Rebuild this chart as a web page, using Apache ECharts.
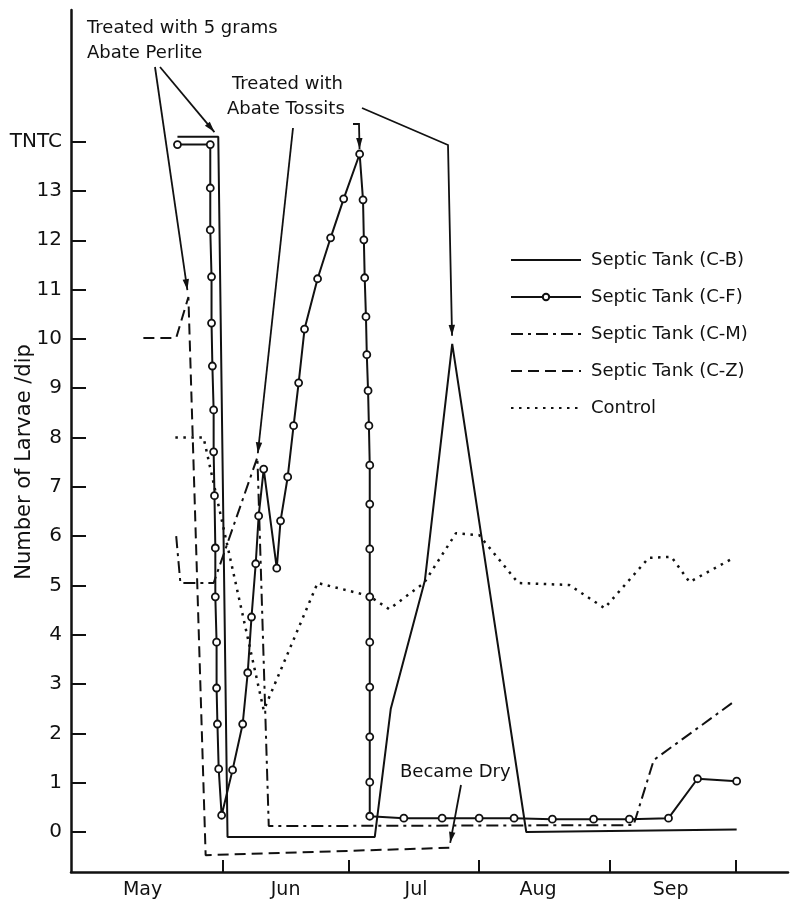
<!DOCTYPE html>
<html>
<head>
<meta charset="utf-8">
<script src="https://cdn.jsdelivr.net/npm/echarts@6/dist/echarts.min.js"></script>
<style>
html, body { margin: 0; padding: 0; background: #fff; }
#main { width: 794px; height: 900px; }
</style>
</head>
<body>
<div id="main"></div>
<script>
// x = day of year (Jun 1 = 152), y = larvae per dip, 14 stands for TNTC
var monthTicks = [152, 182, 213, 244, 274];
var monthLabelPos = [133, 167, 198, 227, 258.5];
var monthNames = ['May', 'Jun', 'Jul', 'Aug', 'Sep'];
var yTicks = [0, 1, 2, 3, 4, 5, 6, 7, 8, 9, 10, 11, 12, 13, 14];
var names = ['Septic Tank (C-B)', 'Septic Tank (C-F)', 'Septic Tank (C-M)', 'Septic Tank (C-Z)', 'Control'];

var tankCB = [[141.3, 14.1], [151.0, 14.1], [153.2, -0.1], [188.2, -0.1], [192.0, 2.5],
  [200.1, 5.1], [206.6, 9.9], [224.2, 0.0], [274.2, 0.05]];

var tankCF = [[141.3, 13.94], [149.1, 13.94],
  [149.1, 13.06], [149.1, 12.21], [149.4, 11.26], [149.4, 10.32], [149.6, 9.45], [149.9, 8.56],
  [149.9, 7.71], [150.1, 6.82], [150.3, 5.76], [150.3, 4.77], [150.6, 3.85], [150.6, 2.92],
  [150.8, 2.19], [151.1, 1.28], [151.8, 0.34],
  [154.4, 1.26], [156.8, 2.19], [158.0, 3.23], [158.9, 4.36], [159.9, 5.44], [160.6, 6.41],
  [161.8, 7.36], [164.9, 5.35], [165.8, 6.31], [167.5, 7.20], [168.9, 8.24], [170.1, 9.11],
  [171.5, 10.20], [174.6, 11.22], [177.7, 12.05], [180.8, 12.84], [184.6, 13.75],
  [185.4, 12.82], [185.6, 12.01], [185.8, 11.24], [186.1, 10.45], [186.3, 9.68], [186.6, 8.95],
  [186.8, 8.24], [187.0, 7.44], [187.0, 6.65], [187.0, 5.74], [187.0, 4.77], [187.0, 3.85],
  [187.0, 2.94], [187.0, 1.93], [187.0, 1.01], [187.0, 0.32],
  [195.1, 0.28], [204.2, 0.28], [213.0, 0.28], [221.3, 0.28], [230.4, 0.26], [240.2, 0.26],
  [248.7, 0.26], [258.0, 0.28], [264.9, 1.08], [274.2, 1.03]];

var tankCM = [[141.0, 6.0], [142.0, 5.05], [149.9, 5.05], [160.3, 7.6], [163.0, 0.12],
  [249.7, 0.14], [254.5, 1.46], [273.5, 2.64]];

var tankCZ = [[133.2, 10.02], [141.0, 10.02], [143.9, 10.85], [148.0, -0.47], [205.9, -0.32]];

var control = [[140.8, 8.0], [147.5, 8.0], [161.8, 2.47], [174.6, 5.05], [186.8, 4.79],
  [191.6, 4.52], [199.9, 5.05], [207.5, 6.06], [213.0, 6.02], [222.3, 5.05], [234.4, 5.01],
  [242.8, 4.54], [253.3, 5.56], [258.7, 5.58], [263.0, 5.07], [273.5, 5.56]];

var ink = '#111';
var font = 'DejaVu Sans';

var chart = echarts.init(document.getElementById('main'), null, { renderer: 'canvas' });

function lineSeries(name, data, type, width, symbol) {
  return {
    name: name,
    type: 'line',
    data: data,
    symbol: symbol || 'none',
    symbolSize: 7,
    showSymbol: !!symbol,
    animation: false,
    itemStyle: { color: '#fff', borderColor: ink, borderWidth: 1.8 },
    lineStyle: { color: ink, width: width, type: type },
    z: 3
  };
}

// only C-F carries a marker in the legend
var hidden = { opacity: 0, color: 'rgba(0,0,0,0)', borderColor: 'rgba(0,0,0,0)' };
var legendData = names.map(function (n, i) {
  return i === 1 ? { name: n } : { name: n, itemStyle: hidden };
});

chart.setOption({
  backgroundColor: '#fff',
  animation: false,
  textStyle: { fontFamily: font, color: ink },
  grid: { left: 71, right: 6, top: 10, bottom: 28 },
  legend: {
    orient: 'vertical',
    left: 505,
    top: 246,
    itemWidth: 70,
    itemHeight: 8,
    itemGap: 19,
    data: legendData,
    textStyle: { fontFamily: font, fontSize: 18, color: ink, padding: [0, 0, 0, 5] }
  },
  xAxis: {
    type: 'value',
    min: 116.0,
    max: 286.4,
    splitLine: { show: false },
    axisLine: { onZero: false, lineStyle: { color: ink, width: 2.5 } },
    axisTick: { inside: true, length: 12, customValues: monthTicks, lineStyle: { color: ink, width: 2 } },
    axisLabel: {
      customValues: monthLabelPos,
      margin: 9,
      fontSize: 19,
      color: ink,
      fontFamily: font,
      formatter: function (v) {
        var best = 0;
        for (var i = 1; i < monthLabelPos.length; i++) {
          if (Math.abs(monthLabelPos[i] - v) < Math.abs(monthLabelPos[best] - v)) best = i;
        }
        return monthNames[best];
      }
    }
  },
  yAxis: {
    type: 'value',
    min: -0.811,
    max: 16.67,
    splitLine: { show: false },
    axisLine: { onZero: false, lineStyle: { color: ink, width: 2.5 } },
    axisTick: { inside: true, length: 15, customValues: yTicks, lineStyle: { color: ink, width: 2 } },
    axisLabel: {
      customValues: yTicks,
      margin: 9,
      fontSize: 20,
      color: ink,
      fontFamily: font,
      formatter: function (v) { return Math.round(v) === 14 ? 'TNTC' : String(Math.round(v)); }
    }
  },
  series: [
    lineSeries(names[0], tankCB, 'solid', 2),
    lineSeries(names[1], tankCF, 'solid', 2, 'circle'),
    lineSeries(names[2], tankCM, [12, 5, 3, 5], 2),
    lineSeries(names[3], tankCZ, [11, 6], 2),
    lineSeries(names[4], control, [2.5, 5.5], 2.5)
  ]
});

// annotation arrows, tips pinned to data points
function px(pt) { return chart.convertToPixel({ gridIndex: 0 }, pt); }

function arrow(path, target, gap) {
  var t = px(target);
  var a = path[path.length - 1];
  var dx = t[0] - a[0], dy = t[1] - a[1];
  var len = Math.sqrt(dx * dx + dy * dy);
  var ux = dx / len, uy = dy / len;
  var tip = [t[0] - ux * gap, t[1] - uy * gap];
  var base = [tip[0] - ux * 11, tip[1] - uy * 11];
  var pts = path.concat([tip]);
  return [
    { type: 'polyline', shape: { points: pts }, style: { stroke: ink, lineWidth: 1.8, fill: null }, z: 10 },
    { type: 'polygon', shape: { points: [tip, [base[0] - uy * 3.2, base[1] + ux * 3.2], [base[0] + uy * 3.2, base[1] - ux * 3.2]] },
      style: { fill: ink }, z: 10 }
  ];
}

function label(text, x, y) {
  return { type: 'text', x: x, y: y, z: 10,
    style: { text: text, fill: ink, font: '18px "DejaVu Sans"', textVerticalAlign: 'top' } };
}

var graphics = [
  label('Treated with 5 grams', 87, 19),
  label('Abate Perlite', 87, 44),
  label('Treated with', 232, 75),
  label('Abate Tossits', 227, 100),
  label('Became Dry', 400, 763),
  { type: 'text', x: 25, y: 462, rotation: Math.PI / 2, z: 10,
    style: { text: 'Number of Larvae /dip', fill: ink, font: '21px "DejaVu Sans"', align: 'center', verticalAlign: 'middle' } }
];
graphics = graphics
  .concat(arrow([[155, 67]], tankCZ[2], 7))
  .concat(arrow([[160, 67]], tankCB[1], 6))
  .concat(arrow([[293, 128]], tankCM[3], 4))
  .concat(arrow([[353, 124], [359, 124]], tankCF[33], 5))
  .concat(arrow([[362, 108], [448, 145]], tankCB[6], 8))
  .concat(arrow([[461, 785]], tankCZ[4], 5));

chart.setOption({ graphic: graphics });
</script>
</body>
</html>
